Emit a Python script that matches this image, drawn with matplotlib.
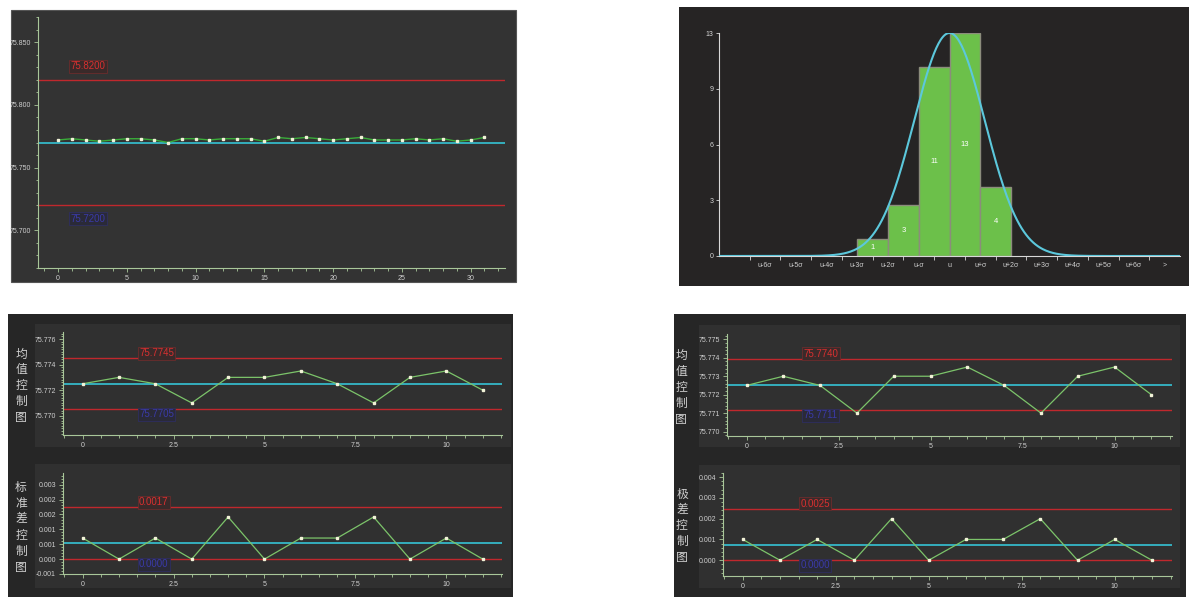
import numpy as np
import matplotlib.pyplot as plt
from matplotlib.patches import Rectangle
from matplotlib.ticker import MultipleLocator, FixedLocator

plt.rcParams['font.family'] = ['Liberation Sans', 'DejaVu Sans']

# ---- data ----
run_x = list(range(32))
run_vals = [75.772, 75.773, 75.772, 75.771, 75.772, 75.773, 75.773, 75.772,
            75.770, 75.773, 75.773, 75.772, 75.773, 75.773, 75.773, 75.771,
            75.774, 75.773, 75.774, 75.773, 75.772, 75.773, 75.774, 75.772,
            75.772, 75.772, 75.773, 75.772, 75.773, 75.771, 75.772, 75.774]
run_ucl, run_cl, run_lcl = 75.82, 75.77, 75.72

hist_ticks = ['u-6σ', 'u-5σ', 'u-4σ', 'u-3σ', 'u-2σ', 'u-σ', 'u', 'u+σ',
              'u+2σ', 'u+3σ', 'u+4σ', 'u+5σ', 'u+6σ', '>']
hist_bins = ['u-3σ', 'u-2σ', 'u-σ', 'u', 'u+σ']   # left edge of each bar
hist_counts = [1, 3, 11, 13, 4]
curve_peak, curve_sigma = 13, 1.15

sub_x = list(range(12))
xbar = [75.7725, 75.773, 75.7725, 75.771, 75.773, 75.773, 75.7735, 75.7725,
        75.771, 75.773, 75.7735, 75.772]
s_vals = [0.000707, 0.0, 0.000707, 0.0, 0.001414, 0.0, 0.000707, 0.000707,
          0.001414, 0.0, 0.000707, 0.0]
r_vals = [0.001, 0.0, 0.001, 0.0, 0.002, 0.0, 0.001, 0.001, 0.002, 0.0,
          0.001, 0.0]

xs_lim = (75.7745, 75.7725, 75.7705)
s_lim = (0.00174, 0.00053, 0.0)
xr_lim = (75.77396, 75.77255, 75.77116)
r_lim = (0.00247, 0.00075, 0.0)

W, H = 1200, 605
fig = plt.figure(figsize=(12, 6.05), dpi=100, facecolor='white')

RED = '#c0282d'
CYAN = '#35b8c8'
SPINE = '#a9c79a'
TXT = '#cfcfcf'


def box(x0, y0, x1, y1, fc, ec='none'):
    fig.add_artist(Rectangle((x0 / W, 1 - y1 / H), (x1 - x0) / W, (y1 - y0) / H,
                             transform=fig.transFigure, facecolor=fc,
                             edgecolor=ec, lw=0.8, zorder=-10))


def px_axes(x0, y0, x1, y1):
    ax = fig.add_axes([x0 / W, 1 - y1 / H, (x1 - x0) / W, (y1 - y0) / H])
    ax.set_facecolor('none')
    for s in ['top', 'right']:
        ax.spines[s].set_visible(False)
    for s in ['left', 'bottom']:
        ax.spines[s].set_color(SPINE)
        ax.spines[s].set_linewidth(0.8)
    ax.tick_params(colors=SPINE, labelcolor=TXT, labelsize=5, length=3,
                   width=0.6, pad=2)
    ax.tick_params(which='minor', colors=SPINE, length=1.8, width=0.6)
    return ax


def limits(ax, lims, txt_hi, txt_lo, tx, off):
    ucl, cl, lcl = lims
    ax.axhline(ucl, color=RED, lw=1.0)
    ax.axhline(lcl, color=RED, lw=1.0)
    ax.axhline(cl, color=CYAN, lw=1.3)
    ax.annotate(txt_hi, (tx, ucl), xytext=(0, off), textcoords='offset points',
                color='#d83030', fontsize=7, va='bottom', ha='left',
                bbox=dict(boxstyle='square,pad=0.15', fc='#3a2a2a', ec='#6a2c2c', lw=0.6))
    ax.annotate(txt_lo, (tx, lcl), xytext=(0, -off), textcoords='offset points',
                color='#3a3aa8', fontsize=7, va='top', ha='left',
                bbox=dict(boxstyle='square,pad=0.15', fc='#2a2a38', ec='#2e2e60', lw=0.6))


# ---- top-left run chart ----
box(11, 10, 516, 282, '#333333', '#555555')
ax = px_axes(38, 17, 505, 268)
ax.set_xlim(-1.46, 32.5)
ax.set_ylim(75.670, 75.870)
ax.yaxis.set_major_locator(FixedLocator([75.70, 75.75, 75.80, 75.85]))
ax.set_yticklabels(['75.700', '75.750', '75.800', '75.850'])
ax.yaxis.set_minor_locator(MultipleLocator(0.01))
ax.xaxis.set_major_locator(MultipleLocator(5))
ax.xaxis.set_minor_locator(MultipleLocator(1))
limits(ax, (run_ucl, run_cl, run_lcl), '75.8200', '75.7200', 0.9, 6)
ax.plot(run_x, run_vals, color='#3aad3a', lw=1.0, marker='s', ms=2,
        mfc='#f2f2d8', mec='#f2f2d8', zorder=5)

# ---- histogram ----
box(679, 7, 1189, 286, '#262424')
ax = px_axes(719, 33, 1180, 256)
ax.spines['left'].set_color('#d8d8d8')
ax.spines['bottom'].set_color('#d8d8d8')
ax.set_xlim(-7.5, 7.5)
ax.set_ylim(0, 13)
pos = np.arange(len(hist_ticks)) - 6
lefts = [hist_ticks.index(b) - 6 for b in hist_bins]
ax.bar(lefts, hist_counts, width=1.0, align='edge', color='#6cc04a',
       edgecolor='#8c8c7c', lw=1.0, zorder=2)
for l, c in zip(lefts, hist_counts):
    ax.text(l + 0.5, c / 2, str(c), color='white', fontsize=5.5,
            ha='center', va='center', zorder=4)
xx = np.linspace(-7.5, 7.5, 400)
ax.plot(xx, curve_peak * np.exp(-xx ** 2 / (2 * curve_sigma ** 2)),
        color='#5cc8dc', lw=1.5, zorder=3)
ax.set_xticks(pos)
ax.set_xticklabels(hist_ticks)
ax.xaxis.set_minor_locator(FixedLocator(np.arange(-6.5, 7, 1.0)))
ax.tick_params(axis='x', which='major', length=0, pad=4)
ax.tick_params(axis='x', which='minor', length=3, colors='#d8d8d8')
ax.set_yticks([0, 3.25, 6.5, 9.75, 13])
ax.set_yticklabels(['0', '3', '6', '9', '13'])
ax.tick_params(axis='y', colors='#d8d8d8', length=2)

# ---- bottom panels ----
box(8, 314, 513, 597, '#262626')
box(35, 324, 511, 447, '#303030')
box(35, 464, 511, 588, '#303030')
box(674, 314, 1186, 597, '#262626')
box(699, 325, 1180, 447, '#303030')
box(699, 465, 1180, 588, '#303030')

cjk = ['Noto Sans CJK SC', 'DejaVu Sans']
for x, y, s in [(21, 386, '均值控制图'), (21, 527, '标准差控制图'),
                (681, 387, '均值控制图'), (682, 526, '极差控制图')]:
    fig.text(x / W, 1 - y / H, '\n'.join(s), family=cjk, color='#d0d0d0',
             fontsize=8.5, ha='center', va='center', linespacing=1.3)


def sub_chart(box_px, xlim, ylim, yticks, yticklabels, ylocm, vals, lims, hi, lo):
    ax = px_axes(*box_px)
    ax.set_xlim(*xlim)
    ax.set_ylim(*ylim)
    ax.set_yticks(yticks)
    ax.set_yticklabels(yticklabels)
    ax.yaxis.set_minor_locator(MultipleLocator(ylocm))
    ax.xaxis.set_major_locator(FixedLocator([0, 2.5, 5, 7.5, 10]))
    ax.set_xticklabels(['0', '2.5', '5', '7.5', '10'])
    ax.xaxis.set_minor_locator(MultipleLocator(0.5))
    limits(ax, lims, hi, lo, 1.55, 0)
    ax.plot(sub_x, vals, color='#7cc46a', lw=0.9, marker='s', ms=2,
            mfc='#f2f2d8', mec='#f2f2d8', zorder=5)
    return ax


sub_chart((63, 332, 502, 435), (-0.54, 11.53), (75.76849, 75.77655),
          [75.770, 75.772, 75.774, 75.776],
          ['75.770', '75.772', '75.774', '75.776'], 0.0002,
          xbar, xs_lim, '75.7745', '75.7705')
sub_chart((63, 473, 502, 574), (-0.54, 11.53), (-0.0005, 0.00289),
          [-0.0005, 0.0, 0.0005, 0.001, 0.0015, 0.002, 0.0025],
          ['-0.001', '0.000', '0.001', '0.001', '0.002', '0.002', '0.003'], 0.0001,
          s_vals, s_lim, '0.0017', '0.0000')
sub_chart((727, 334, 1172, 436), (-0.53, 11.56), (75.76976, 75.77529),
          [75.770, 75.771, 75.772, 75.773, 75.774, 75.775],
          ['75.770', '75.771', '75.772', '75.773', '75.774', '75.775'], 0.0002,
          xbar, xr_lim, '75.7740', '75.7711')
sub_chart((723, 473, 1172, 576), (-0.53, 11.54), (-0.00076, 0.0042),
          [0.0, 0.001, 0.002, 0.003, 0.004],
          ['0.000', '0.001', '0.002', '0.003', '0.004'], 0.0002,
          r_vals, r_lim, '0.0025', '0.0000')

fig.savefig('out.png', dpi=100, facecolor='white')
